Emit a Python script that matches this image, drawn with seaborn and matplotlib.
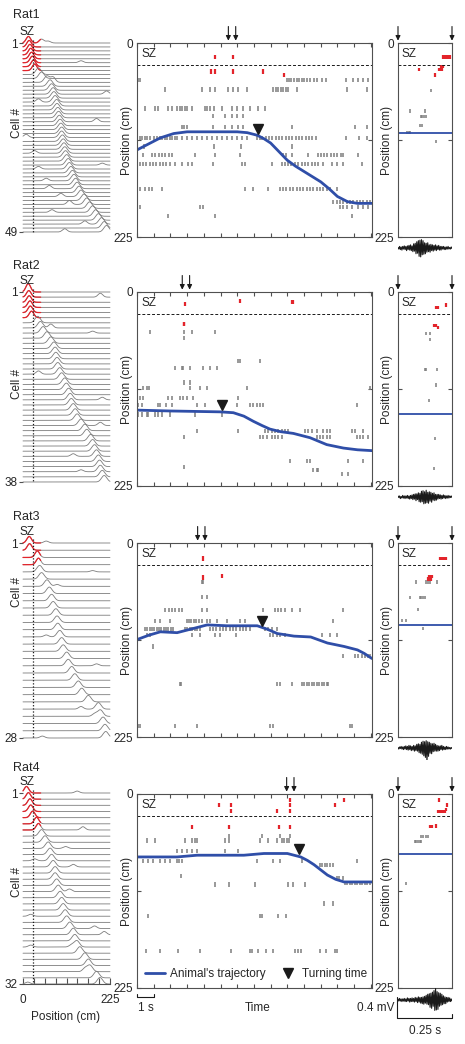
import numpy as np
import pandas as pd
import matplotlib
matplotlib.use("Agg")
import matplotlib.pyplot as plt
from matplotlib.lines import Line2D
import seaborn as sns

# ---------------------------------------------------------------- data
rat_names = ["Rat1", "Rat2", "Rat3", "Rat4"]
sz_boundary = 26          # cm
track_len = 225           # cm
session_len = 14.07       # s shown in middle panels
zoom_len = 0.25           # s shown in right panels

# place-field peak positions (cm): SZ cells (red) then remaining cells (gray)
rat1_sz_peaks = [14, 16, 18, 20, 22, 24, 27, 30]
rat1_peaks = [40, 48, 62, 70, 74, 78, 80, 83, 87, 88, 90, 92, 94, 96, 98, 100, 100,
              102, 104, 106, 108, 110, 113, 117, 120, 124, 128, 132, 136, 140, 145,
              150, 158, 165, 172, 180, 188, 195, 203, 210, 216]
rat2_sz_peaks = [14, 15, 16, 18, 19, 22]
rat2_peaks = [38, 45, 52, 62, 72, 80, 83, 85, 88, 90, 95, 100, 108, 112, 118, 122,
              125, 130, 135, 140, 150, 160, 165, 175, 180, 185, 190, 195, 198, 200,
              205, 210]
rat3_sz_peaks = [16, 17, 37, 40]
rat3_peaks = [43, 48, 62, 68, 74, 78, 85, 88, 90, 95, 100, 104, 113, 117, 126, 134,
              143, 152, 169, 195, 200, 207, 212, 214]
rat4_sz_peaks = [9, 14, 18, 20, 25, 35, 40]
rat4_peaks = [48, 57, 65, 70, 74, 78, 83, 83, 87, 91, 96, 100, 104, 109, 113, 121,
              130, 134, 139, 147, 160, 169, 173, 190, 199]

# secondary bumps: (cell #, position cm, relative height)
rat1_extra = [(1, 48, 0.6), (1, 65, 0.3), (6, 150, 0.3), (11, 78, 0.8), (14, 216, 0.5),
              (16, 40, 0.5), (21, 190, 0.5), (25, 8, 0.5), (29, 30, 0.4), (32, 205, 0.3),
              (33, 40, 0.4), (36, 60, 0.4), (38, 68, 0.5), (40, 98, 0.5), (42, 120, 0.6),
              (44, 75, 0.4), (47, 160, 0.5), (49, 108, 0.5)]
rat2_extra = [(1, 12, 0.3), (2, 200, 0.6), (8, 72, 0.6), (9, 180, 0.3), (17, 40, 0.5),
              (22, 205, 0.4), (27, 200, 0.5), (33, 130, 0.4), (36, 150, 0.3)]
rat3_extra = [(1, 60, 0.3), (5, 180, 0.2), (7, 88, 0.3), (14, 60, 0.3), (18, 190, 0.3),
              (24, 150, 0.4), (25, 185, 0.4), (28, 50, 0.3)]
rat4_extra = [(1, 140, 0.3), (7, 155, 0.5), (10, 110, 0.3), (12, 30, 0.3), (13, 130, 0.4),
              (17, 120, 0.4), (21, 20, 0.3), (23, 185, 0.4), (24, 210, 0.5),
              (26, 20, 0.3), (26, 125, 0.3), (30, 160, 0.5), (32, 12, 0.3)]

# spike rasters, middle panels: position (cm) -> spike times (s)
rat1_red = {16: [4.67, 5.77], 33: [4.45, 4.67, 5.72, 7.52], 37: [8.82]}
rat1_gray = {
    43: [0.08, 0.18, 8.96, 9.1, 9.25, 9.4, 9.55, 9.7, 9.85, 10.0, 10.2, 10.35, 10.6, 10.8,
         11.1, 11.3, 12.5, 12.95, 13.25, 13.55, 13.85],
    54: [1.68, 3.87, 4.37, 4.67, 5.47, 5.77, 6.07, 6.57, 8.16, 8.3, 8.45, 8.6, 8.75, 8.9,
         9.05, 9.56, 12.56, 13.75],
    76: [0.48, 1.08, 1.28, 1.88, 2.08, 2.4, 2.55, 2.7, 2.85, 3.0, 3.27, 4.07, 4.2, 4.37,
         4.6, 5.07, 5.67, 5.97, 6.37, 6.77, 7.27, 7.66],
    85: [4.57, 5.27, 5.67, 5.97, 6.37],
    97: [2.67, 2.8, 2.97, 4.57, 5.27, 5.67, 6.07, 6.37, 9.26, 13.05, 13.75],
    110: [0.18, 0.3, 0.45, 0.6, 0.8, 1.0, 1.2, 1.35, 1.5, 1.65, 1.8, 1.95, 2.1, 2.25, 2.4,
          2.7, 3.0, 3.3, 3.6, 3.9, 4.2, 4.5, 4.8, 5.1, 5.4, 5.7, 6.0, 6.3, 6.6, 7.2, 7.35,
          7.5, 7.7, 7.9, 8.1, 8.3, 8.5, 8.7, 8.9, 9.1, 9.3, 9.5, 9.7, 9.9, 10.1, 10.3,
          10.5, 10.7, 12.5, 13.3, 13.75],
    120: [0.4, 4.6, 6.2, 9.3],
    130: [0.38, 0.9, 1.08, 1.3, 1.5, 1.7, 1.9, 2.1, 3.47, 4.67, 6.17, 8.76, 8.9, 9.26,
          10.26, 10.86, 11.0, 11.2, 11.4, 11.6, 11.8, 12.0, 12.2, 12.36, 13.25],
    140: [0.18, 0.35, 0.55, 0.75, 0.95, 1.15, 1.35, 1.55, 1.75, 1.95, 2.28, 2.67, 3.07,
          3.27, 4.57, 6.27, 6.47, 8.06, 8.66, 8.85, 9.05, 9.25, 9.45, 9.65, 9.85, 10.05,
          10.25, 10.45, 10.65, 10.85, 11.16, 11.66, 11.96, 12.36, 13.45],
    169: [0.18, 0.5, 0.7, 0.9, 1.5, 6.47, 6.97, 7.86, 8.56, 8.75, 8.95, 9.15, 9.35, 9.55,
          9.75, 9.95, 10.15, 10.35, 10.55, 10.75, 10.95, 11.15, 11.35, 11.55, 11.96],
    184: [11.76, 11.95, 12.15, 12.35, 12.55, 12.75, 12.95, 13.15, 13.35, 13.55, 13.75, 13.95],
    190: [0.18, 3.77, 3.97, 12.16, 12.36, 12.56, 12.9, 13.25, 13.55, 13.85],
    201: [1.88, 4.67, 12.85],
}
rat2_red = {14: [2.87], 10: [6.17], 12: [9.28, 9.36], 37: [2.81, 2.84]}
rat2_gray = {
    46: [0.78, 2.81, 3.27, 4.67],
    53: [2.81],
    80: [6.07, 6.17, 7.37],
    88: [2.28, 2.67, 2.77, 3.17, 3.97, 4.37, 4.77],
    105: [2.81, 3.17],
    111: [0.38, 0.58, 0.74, 3.17, 3.77, 4.17, 6.61, 13.95],
    123: [0.18, 0.38, 1.88, 2.08, 2.57, 2.77, 2.97, 3.37, 6.07],
    131: [0.08, 0.28, 1.28, 1.38, 1.74, 2.08, 3.57, 4.07, 5.97, 6.77, 6.97, 7.17, 7.37,
          7.57, 13.15],
    142: [0.08, 0.28, 0.58, 0.68, 1.08, 1.28, 1.48, 1.98, 3.47, 5.07],
    161: [3.57, 6.07, 7.66, 7.86, 8.06, 8.26, 8.46, 8.66, 8.86, 9.06, 10.06, 10.26, 10.46,
          10.76, 11.16, 11.36, 11.56, 12.86, 13.06, 13.56],
    168: [2.81, 7.37, 7.57, 7.77, 8.06, 8.26, 8.46, 8.66, 10.76, 10.96, 11.16, 11.36,
          11.56, 13.15, 13.35, 13.55, 13.85],
    196: [9.16, 10.16, 10.36, 12.66, 13.55],
    203: [2.81],
    206: [10.56, 10.76, 10.86],
    211: [12.26, 12.66],
}
rat3_red = {18: [3.97], 40: [3.93], 38: [5.11]}
rat3_gray = {
    45: [3.87, 3.97],
    63: [3.87, 4.21],
    78: [1.68, 1.9, 2.1, 2.3, 2.5, 2.7, 3.87, 4.17, 7.52, 8.26, 8.45, 8.65, 8.85, 9.26,
         9.76, 12.36],
    90: [1.08, 1.38, 1.98, 2.97, 3.1, 3.25, 3.4, 3.55, 3.7, 3.87, 4.17, 4.37, 4.77, 5.37,
         6.17, 6.47, 11.76],
    100: [0.48, 0.62, 0.76, 0.9, 1.04, 1.18, 1.32, 1.46, 1.6, 1.74, 1.88, 2.02, 2.18,
          2.87, 3.0, 3.15, 3.3, 3.45, 3.6, 3.77, 4.37, 4.55, 4.75, 4.95, 5.15, 5.35, 5.55,
          5.75, 5.95, 6.15, 6.35, 6.55, 6.77, 7.66, 7.86, 8.06, 8.36],
    107: [0.58, 0.78, 3.27, 3.77, 4.67, 4.97, 5.93, 7.96, 8.16, 8.36, 8.56, 8.86, 11.06,
          11.56, 11.96],
    120: [0.98],
    131: [12.36, 13.05, 13.25, 13.45, 13.65, 13.85, 13.95],
    164: [2.57, 2.65, 8.36, 8.56, 9.26, 9.86, 10.0, 10.15, 10.3, 10.45, 10.6, 10.75,
          10.9, 11.05, 11.2, 11.35, 11.46],
    212: [0.08, 0.18, 2.28, 3.57, 7.96, 8.16, 12.75, 12.85],
}
rat4_red = {7: [9.16, 12.41], 13: [4.93, 5.61, 9.16, 11.86], 20: [5.61, 8.36, 9.16],
            38: [3.27, 5.51, 8.52, 9.16]}
rat4_gray = {
    49: [5.53, 7.47, 8.56, 9.16],
    54: [0.62, 1.08, 2.87, 3.27, 3.47, 3.61, 5.27, 5.51, 7.37, 7.86, 8.36, 8.66, 8.8,
         8.96, 9.1],
    66: [2.37, 2.67, 3.01, 3.27, 3.57, 5.27, 6.07],
    78: [0.38, 0.68, 0.98, 1.38, 1.68, 1.98, 2.38, 2.5, 2.68, 7.17, 8.16, 8.56, 9.86, 13.15],
    82: [10.96, 11.1, 11.25, 11.4, 11.55, 11.76],
    95: [2.63],
    97: [11.96, 12.1, 12.36],
    103: [12.46, 12.6, 12.75, 12.9, 13.05, 13.2, 13.35, 13.5, 13.65, 13.8, 13.95],
    105: [4.67, 5.51, 7.07, 9.06, 9.32, 10.06],
    127: [11.22, 11.76],
    141: [0.64, 7.37, 7.47, 8.46, 8.9],
    182: [0.52, 1.38, 2.48, 3.77, 5.61, 6.77, 6.87, 7.27, 7.7, 8.16, 9.46, 9.66, 9.8,
          10.96, 11.32, 11.86, 11.96],
}

# spikes in the zoomed window (right panels): position -> time within window (s)
rat1_zoom_red = {16: [0.208, 0.216, 0.227, 0.236, 0.242], 27: [0.2, 0.208],
                 31: [0.097, 0.19, 0.196, 0.205], 37: [0.17]}
rat1_zoom_gray = {55: [0.151], 79: [0.054, 0.123], 85: [0.105, 0.113, 0.120, 0.128],
                  96: [0.103, 0.110], 104: [0.042, 0.051, 0.057], 114: [0.177]}
rat2_zoom_red = {18: [0.178, 0.184], 15: [0.221], 39: [0.165, 0.174], 41: [0.187]}
rat2_zoom_gray = {48: [0.131, 0.147], 55: [0.147], 90: [0.123, 0.131, 0.182],
                  108: [0.174], 126: [0.142], 170: [0.170], 205: [0.165]}
rat3_zoom_red = {18: [0.193, 0.201, 0.208, 0.216, 0.221],
                 39: [0.144, 0.147, 0.151, 0.156], 42: [0.139, 0.144, 0.147, 0.151]}
rat3_zoom_gray = {45: [0.085, 0.131, 0.139, 0.147, 0.181],
                  63: [0.054, 0.100, 0.108, 0.116, 0.123], 77: [0.093],
                  90: [0.020, 0.039], 99: [0.116]}
rat4_zoom_red = {7: [0.188], 13: [0.227], 20: [0.185, 0.193, 0.201, 0.208, 0.216],
                 18: [0.221], 38: [0.150, 0.159], 37: [0.177]}
rat4_zoom_gray = {49: [0.105, 0.116, 0.128, 0.139],
                  55: [0.077, 0.085, 0.093, 0.100, 0.108], 104: [0.039]}

# animal's trajectory (time s, position cm)
rat1_traj_t = [0, 0.7, 1.4, 2.2, 3.0, 4.5, 6.0, 6.6, 7.2, 7.6, 8.0, 8.5, 9.0, 9.5, 10.0,
               10.5, 11.0, 11.5, 12.0, 12.6, 13.2, 14.07]
rat1_traj_pos = [124, 117, 110, 105, 103, 103, 103, 104, 107, 111, 116, 126, 136, 143,
                 149, 155, 161, 169, 178, 184, 186, 186]
rat2_traj_t = [0, 2.0, 4.97, 5.77, 6.4, 6.97, 7.5, 7.96, 8.6, 9.36, 10.36, 11.36, 12.36,
               13.2, 14.07]
rat2_traj_pos = [137, 138, 139, 140, 144, 150, 155, 159, 162, 164, 169, 177, 181, 183, 184]
rat3_traj_t = [0, 0.7, 1.4, 2.4, 3.0, 3.6, 4.2, 5.4, 7.2, 7.8, 8.4, 9.4, 10.4, 11.4,
               12.4, 13.2, 13.6, 14.07]
rat3_traj_pos = [112, 107, 103, 104, 101, 98, 95, 96, 96, 100, 105, 108, 109, 116, 120,
                 124, 128, 134]
rat4_traj_t = [0, 2.4, 3.6, 6.4, 7.6, 9.0, 9.8, 10.2, 10.6, 11.0, 11.4, 11.9, 12.4, 14.07]
rat4_traj_pos = [73, 73, 71, 71, 69, 69, 73, 77, 82, 88, 94, 99, 102, 102]

turn_t = [7.27, 5.1, 7.46, 9.7]
turn_pos = [100, 131, 90, 64]
window_t = [(5.47, 5.91), (2.71, 3.15), (3.63, 4.07), (8.96, 9.40)]
zoom_traj_pos = [104, 141, 95, 70]

# LFP traces under the zoomed panels (mV)
rat1_lfp = [0.01, -0.02, 0.03, -0.03, 0.02, -0.04, 0.03, -0.02, 0.04, -0.03,
            0.03, -0.05, 0.04, -0.03, 0.05, -0.04, 0.06, -0.05, 0.04, -0.07,
            0.08, -0.06, 0.09, -0.11, 0.12, -0.10, 0.14, -0.16, 0.15, -0.17,
            0.16, -0.13, 0.14, -0.12, 0.10, -0.11, 0.09, -0.08, 0.10, -0.07,
            0.06, -0.08, 0.07, -0.05, 0.06, -0.06, 0.05, -0.04, 0.06, -0.05,
            0.04, -0.03, 0.05, -0.04, 0.03, -0.04, 0.03, -0.02, 0.03, -0.03,
            0.02, -0.03, 0.02, -0.02, 0.03, -0.02, 0.01, -0.02, 0.02, -0.01]
rat2_lfp = [0.02, -0.01, 0.02, -0.03, 0.01, -0.02, 0.03, -0.02, 0.02, -0.03,
            0.02, -0.02, 0.03, -0.03, 0.02, -0.04, 0.03, -0.03, 0.04, -0.05,
            0.05, -0.04, 0.06, -0.07, 0.06, -0.05, 0.08, -0.09, 0.07, -0.10,
            0.11, -0.09, 0.12, -0.13, 0.10, -0.12, 0.13, -0.11, 0.09, -0.12,
            0.10, -0.08, 0.09, -0.10, 0.07, -0.06, 0.08, -0.07, 0.05, -0.06,
            0.05, -0.04, 0.05, -0.03, 0.04, -0.04, 0.03, -0.03, 0.04, -0.02,
            0.03, -0.03, 0.02, -0.02, 0.03, -0.02, 0.02, -0.01, 0.02, -0.01]
rat3_lfp = [0.01, -0.02, 0.02, -0.01, 0.03, -0.02, 0.02, -0.03, 0.03, -0.02,
            0.04, -0.03, 0.03, -0.04, 0.05, -0.03, 0.04, -0.05, 0.03, -0.04,
            0.05, -0.06, 0.04, -0.05, 0.07, -0.06, 0.08, -0.09, 0.07, -0.10,
            0.11, -0.12, 0.13, -0.15, 0.12, -0.18, 0.14, -0.26, 0.12, -0.16,
            0.11, -0.10, 0.09, -0.11, 0.08, -0.07, 0.09, -0.06, 0.07, -0.06,
            0.05, -0.06, 0.04, -0.05, 0.04, -0.03, 0.05, -0.04, 0.03, -0.03,
            0.02, -0.03, 0.03, -0.02, 0.02, -0.02, 0.01, -0.02, 0.01, -0.01]
rat4_lfp = [0.02, -0.02, 0.03, -0.02, 0.02, -0.03, 0.02, -0.02, 0.03, -0.03,
            0.02, -0.03, 0.04, -0.02, 0.03, -0.04, 0.03, -0.03, 0.04, -0.03,
            0.03, -0.04, 0.05, -0.03, 0.04, -0.05, 0.06, -0.04, 0.05, -0.06,
            0.05, -0.07, 0.06, -0.08, 0.07, -0.06, 0.09, -0.08, 0.11, -0.09,
            0.12, -0.14, 0.13, -0.16, 0.15, -0.12, 0.18, -0.20, 0.22, -0.19,
            0.16, -0.18, 0.14, -0.12, 0.13, -0.10, 0.11, -0.09, 0.08, -0.07,
            0.06, -0.07, 0.05, -0.04, 0.05, -0.03, 0.04, -0.03, 0.02, -0.02]

rats = [
    (rat1_sz_peaks, rat1_peaks, rat1_extra, rat1_red, rat1_gray, rat1_zoom_red,
     rat1_zoom_gray, rat1_traj_t, rat1_traj_pos, rat1_lfp),
    (rat2_sz_peaks, rat2_peaks, rat2_extra, rat2_red, rat2_gray, rat2_zoom_red,
     rat2_zoom_gray, rat2_traj_t, rat2_traj_pos, rat2_lfp),
    (rat3_sz_peaks, rat3_peaks, rat3_extra, rat3_red, rat3_gray, rat3_zoom_red,
     rat3_zoom_gray, rat3_traj_t, rat3_traj_pos, rat3_lfp),
    (rat4_sz_peaks, rat4_peaks, rat4_extra, rat4_red, rat4_gray, rat4_zoom_red,
     rat4_zoom_gray, rat4_traj_t, rat4_traj_pos, rat4_lfp),
]

# ---------------------------------------------------------------- style / layout
sns.set_theme(style="white")
plt.rcParams["font.family"] = ["Liberation Sans", "DejaVu Sans"]
plt.rcParams["font.size"] = 8.5
FS = 8.5

RED = "#e3242b"
GRAY = "#7d7d7d"
LGRAY = "#7c7c7c"
BLUE = "#2f4ea8"
FRAME = "#505050"

W, H = 465, 1044
fig = plt.figure(figsize=(W / 100, H / 100), dpi=100)


def px_box(x0, y0, x1, y1):
    return [x0 / W, 1 - y1 / H, (x1 - x0) / W, (y1 - y0) / H]


panel_top = [43, 292, 543, 794]
panel_h = 194
left_rows = [(43, 232), (292, 482), (543, 738), (793, 984)]
cell_label_y = [123, 384, 592, 882]
title_y = [15, 266, 517, 768]
lfp_y = [248, 497, 748, 1000]
xs = np.linspace(0, track_len, 400)


def draw_raster(ax, red, gray, half=2.4):
    for pos, times in gray.items():
        ax.vlines(times, pos - half, pos + half, color=GRAY, lw=1.1)
    for pos, times in red.items():
        ax.vlines(times, pos - half, pos + half, color=RED, lw=1.6)


def style_frame(ax):
    for s in ax.spines.values():
        s.set_color(FRAME)
        s.set_linewidth(0.8)


for k, (szp, pk, extra, red, gray, zred, zgray, tt, tp, lfp) in enumerate(rats):
    # ---------------- left: tuning curves
    r0, r1 = left_rows[k]
    peaks = szp + pk
    n = len(peaks)
    spacing = (r1 - r0) / (n - 1)
    amp_rows = 6.5 / spacing
    axl = fig.add_axes(px_box(23, r0, 110, r1))
    axl.set_xlim(0, track_len)
    axl.set_ylim(n, 1)
    for i, p in enumerate(peaks):
        row = i + 1
        sig = 6 if i < len(szp) else 7
        prof = np.exp(-0.5 * ((xs - p) / sig) ** 2)
        for (c, ep, ea) in extra:
            if c == row:
                prof = prof + ea * np.exp(-0.5 * ((xs - ep) / 6) ** 2)
        yv = row - amp_rows * prof
        axl.plot(xs, yv, color=LGRAY, lw=0.6, clip_on=False)
        if i < len(szp):
            m = xs <= 46
            axl.plot(xs[m], yv[m], color=RED, lw=0.9, clip_on=False)
    axl.vlines(sz_boundary, 0.2 if n > 40 else 0.5, n, colors="k", linestyles=(0, (1, 1.5)),
               lw=0.9, clip_on=False)
    for s in ["top", "right", "left"]:
        axl.spines[s].set_visible(False)
    axl.set_yticks([1, n], ["1", str(n)])
    axl.tick_params(axis="y", direction="out", length=3, width=0.8, color=FRAME,
                    pad=1, labelsize=FS, left=True)
    if k == 3:
        axl.spines["bottom"].set_color(FRAME)
        axl.spines["bottom"].set_linewidth(0.8)
        ticks = np.linspace(0, track_len, 9)
        axl.set_xticks(ticks, ["0"] + [""] * 7 + ["225"])
        axl.tick_params(axis="x", direction="in", length=4, width=0.8, color=FRAME,
                        pad=7, labelsize=FS, bottom=True)
    else:
        axl.spines["bottom"].set_visible(False)
        axl.set_xticks([])
    axl.patch.set_alpha(0)

    # ---------------- middle: raster + trajectory
    top = panel_top[k]
    axm = fig.add_axes(px_box(137, top, 372, top + panel_h))
    axm.set_xlim(0, session_len)
    axm.set_ylim(track_len, 0)
    draw_raster(axm, red, gray)
    traj = pd.DataFrame({"t": tt, "pos": tp})
    sns.lineplot(data=traj, x="t", y="pos", ax=axm, color=BLUE, lw=2.0, sort=False,
                 estimator=None)
    axm.plot([turn_t[k]], [turn_pos[k]], marker="v", color="k", ms=7.5, ls="none")
    axm.axhline(sz_boundary, color="k", lw=0.7, ls=(0, (3, 2)))
    axm.text(0.25, 13, "SZ", fontsize=FS, ha="left", va="center")
    axm.set_xticks(np.arange(0, 15, 1))
    axm.set_xticklabels([])
    axm.set_yticks([0, 112.5, 225], ["0", "", "225"])
    axm.tick_params(axis="x", direction="in", length=3, width=0.8, color=FRAME,
                    top=True, bottom=True)
    axm.tick_params(axis="y", direction="in", length=3, width=0.8, color=FRAME,
                    left=True, right=True, pad=3, labelsize=FS)
    axm.set_xlabel("")
    axm.set_ylabel("")
    style_frame(axm)
    for tw in window_t[k]:
        axm.annotate("", xy=(tw, 1.012), xytext=(tw, 1.085),
                     xycoords=axm.get_xaxis_transform(),
                     textcoords=axm.get_xaxis_transform(),
                     arrowprops=dict(arrowstyle="-|>", color="k", lw=0.8,
                                     mutation_scale=7, shrinkA=0, shrinkB=0),
                     annotation_clip=False)
    if k == 3:
        handles = [Line2D([], [], color=BLUE, lw=2),
                   Line2D([], [], marker="v", color="k", ls="none", ms=7.5)]
        axm.legend(handles, ["Animal's trajectory", "Turning time"], loc="lower left",
                   ncol=2, frameon=False, fontsize=FS, handlelength=1.7,
                   handletextpad=0.4, columnspacing=1.0, borderaxespad=0.4,
                   borderpad=0.3)
        # 1 s scale bar
        tr = axm.get_xaxis_transform()
        axm.plot([0, 0, 1, 1], [-0.03, -0.047, -0.047, -0.03], color="k", lw=0.8,
                 transform=tr, clip_on=False)

    # ---------------- right: zoomed window
    axr = fig.add_axes(px_box(398, top, 452, top + panel_h))
    axr.set_xlim(0, zoom_len)
    axr.set_ylim(track_len, 0)
    draw_raster(axr, zred, zgray, half=2.0)
    axr.axhline(zoom_traj_pos[k], color=BLUE, lw=1.3)
    axr.axhline(sz_boundary, color="k", lw=0.7, ls=(0, (3, 2)))
    axr.text(0.018, 13, "SZ", fontsize=FS, ha="left", va="center")
    axr.set_xticks([])
    axr.set_yticks([0, 112.5, 225], ["0", "", "225"])
    axr.tick_params(axis="y", direction="in", length=3, width=0.8, color=FRAME,
                    left=True, right=True, pad=3, labelsize=FS)
    style_frame(axr)
    for tw in (0, zoom_len):
        axr.annotate("", xy=(tw, 1.012), xytext=(tw, 1.085),
                     xycoords=axr.get_xaxis_transform(),
                     textcoords=axr.get_xaxis_transform(),
                     arrowprops=dict(arrowstyle="-|>", color="k", lw=0.8,
                                     mutation_scale=7, shrinkA=0, shrinkB=0),
                     annotation_clip=False)

    # ---------------- LFP trace
    axe = fig.add_axes(px_box(398, lfp_y[k] - 12, 452, lfp_y[k] + 12))
    lf = pd.DataFrame({"i": np.arange(len(lfp)), "v": lfp})
    sns.lineplot(data=lf, x="i", y="v", ax=axe, color="k", lw=0.8, estimator=None)
    axe.set_xlim(0, len(lfp) - 1)
    axe.set_ylim(-0.23, 0.23)
    axe.axis("off")

# ---------------------------------------------------------------- text overlay
ov = fig.add_axes([0, 0, 1, 1])
ov.set_xlim(0, W)
ov.set_ylim(H, 0)
ov.axis("off")
for k in range(4):
    ov.text(13, title_y[k], rat_names[k], fontsize=FS + 0.5, ha="left", va="center")
    ov.text(27, left_rows[k][0] - 11, "SZ", fontsize=FS, ha="center", va="center")
    ov.text(17, cell_label_y[k], "Cell #", fontsize=FS, ha="center", va="center",
            rotation=90)
    cy = panel_top[k] + panel_h / 2
    ov.text(127, cy, "Position (cm)", fontsize=FS, ha="center", va="center", rotation=90)
    ov.text(387, cy, "Position (cm)", fontsize=FS, ha="center", va="center", rotation=90)

ov.text(66, 1017, "Position (cm)", fontsize=FS, ha="center", va="center")
ov.text(146, 1008, "1 s", fontsize=FS, ha="center", va="center")
ov.text(258, 1008, "Time", fontsize=FS, ha="center", va="center")
ov.text(394, 1008, "0.4 mV", fontsize=FS, ha="right", va="center")
ov.plot([397, 397, 452, 452], [997, 1018, 1018, 1014], color="k", lw=0.8)
ov.text(425, 1031, "0.25 s", fontsize=FS, ha="center", va="center")

fig.savefig("out.png", dpi=100)
